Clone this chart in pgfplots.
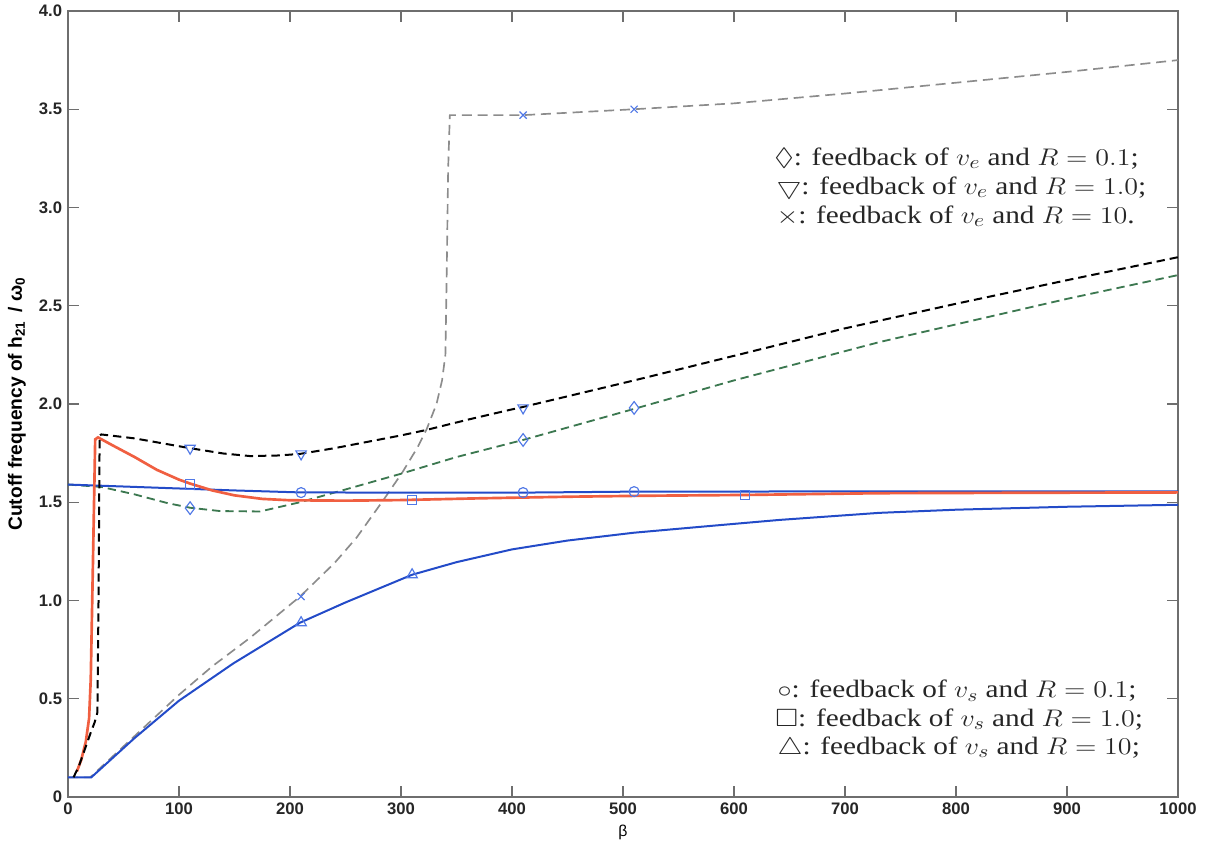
\documentclass[border=0pt]{standalone}
\usepackage{amssymb}
\usepackage{graphicx}
\usepackage{pgfplots}
\pgfplotsset{compat=1.18}
\usepackage{fontspec}
\setmainfont{Liberation Serif}
\setsansfont{Liberation Sans}
\usetikzlibrary{calc}
\definecolor{cred}{RGB}{240,95,65}
\definecolor{cblue}{RGB}{35,75,200}
\definecolor{cgreen}{RGB}{60,120,80}
\definecolor{cgray}{RGB}{140,140,140}
\definecolor{cmark}{RGB}{80,120,230}
\definecolor{caxis}{RGB}{110,110,110}
\newcommand{\wide}[1]{\scalebox{1.17}[1]{#1}}
\begin{document}
\begin{tikzpicture}
\begin{axis}[
  name=ax,
  scale only axis,
  width=666pt, height=471.6pt,
  xmin=0, xmax=1000, ymin=0, ymax=4,
  xtick={0,100,...,1000},
  ytick={0,0.5,1,1.5,2,2.5,3,3.5,4},
  yticklabels={0,0.5,1.0,1.5,2.0,2.5,3.0,3.5,4.0},
  xticklabel style={/pgf/number format/1000 sep={}},
  tick align=inside,
  major tick length=6.8pt,
  axis line style={caxis, line width=0.9pt},
  every tick/.style={caxis, line width=0.7pt},
  /pgf/number format/assume math mode=true,
  ticklabel style={font=\fontsize{10}{12}\sffamily\bfseries, text=black!85},
  xlabel={\fontsize{9.5}{11}\sffamily β},
  xlabel style={at={(axis description cs:0.5,0)}, anchor=center, yshift=-21pt},
  ylabel={\fontsize{11.5}{13}\sffamily\bfseries Cutoff frequency of h\textsubscript{21}\,\ /\ ω\textsubscript{0}},
  ylabel style={at={(axis description cs:-0.046,0.5)}, anchor=center, rotate=0},
  clip=false,
]
% gray dashed: v_e, R = 10
\addplot[cgray, line width=1.0pt, dash pattern=on 6pt off 3.5pt] coordinates {
(0,0.1)(20,0.1)(60,0.31)(100,0.52)(130,0.665)(164,0.81)(209,1.02)(240,1.19)(260,1.32)(284,1.51)(301,1.65)(315,1.78)(323,1.87)(332,2.0)(337,2.12)(340,2.25)(341,2.6)(342.5,3.2)(344,3.47)(380,3.47)(410,3.47)(510,3.50)(600,3.53)(700,3.58)(800,3.635)(900,3.69)(1000,3.75)};
% green dashed: v_e, R = 0.1
\addplot[cgreen, line width=1.1pt, dash pattern=on 5pt off 3pt] coordinates {
(0,1.59)(30,1.578)(60,1.54)(90,1.495)(110,1.472)(137,1.455)(173,1.453)(209,1.50)(250,1.565)(300,1.645)(350,1.73)(410,1.817)(510,1.975)(600,2.12)(731,2.315)(800,2.405)(900,2.535)(1000,2.656)};
% blue solid: v_s, R = 0.1
\addplot[cblue, line width=1.2pt] coordinates {
(0,1.59)(50,1.58)(100,1.57)(150,1.56)(209,1.55)(300,1.549)(410,1.549)(510,1.554)(700,1.555)(1000,1.555)};
% blue solid: v_s, R = 10
\addplot[cblue, line width=1.2pt] coordinates {
(0,0.1)(21,0.1)(60,0.3)(100,0.49)(149,0.68)(209,0.887)(250,0.99)(310,1.131)(350,1.195)(400,1.26)(450,1.305)(510,1.345)(580,1.38)(641,1.41)(731,1.446)(800,1.462)(900,1.477)(1000,1.487)};
% red solid: v_s, R = 1.0
\addplot[cred, line width=1.6pt] coordinates {
(8,0.13)(12,0.19)(16,0.28)(19,0.40)(20.5,0.6)(22.5,1.2)(24.5,1.82)(27,1.83)(40,1.79)(60,1.73)(80,1.665)(100,1.615)(110,1.595)(130,1.56)(150,1.535)(175,1.517)(200,1.51)(250,1.508)(300,1.511)(371,1.52)(450,1.528)(520,1.533)(610,1.537)(731,1.546)(850,1.548)(1000,1.55)};
% black dashed: v_e, R = 1.0
\addplot[black, line width=1.2pt, dash pattern=on 5pt off 3pt] coordinates {
(5,0.1)(10,0.16)(15,0.24)(20,0.32)(24,0.38)(26.5,0.43)(27.5,1.0)(28.5,1.84)(30,1.845)(60,1.825)(90,1.795)(110,1.775)(140,1.748)(164,1.735)(190,1.738)(209,1.746)(240,1.775)(263,1.80)(300,1.84)(323,1.868)(360,1.92)(398,1.97)(410,1.985)(510,2.12)(600,2.245)(700,2.385)(800,2.51)(900,2.63)(1000,2.747)};
% markers
\addplot[only marks, mark=o, mark size=3pt, mark options={cmark, line width=0.7pt}] coordinates {(210,1.549)(410,1.549)(510,1.554)};
\addplot[only marks, mark=square, mark size=2.8pt, mark options={cmark, line width=0.7pt}] coordinates {(110,1.59)(310,1.512)(610,1.537)};
\addplot[only marks, mark=triangle, mark size=3.6pt, mark options={cmark, line width=0.7pt}] coordinates {(210,0.887)(310,1.131)};
\addplot[only marks, mark=triangle, mark size=3.6pt, mark options={cmark, line width=0.7pt, rotate=180}] coordinates {(110,1.775)(210,1.746)(410,1.98)};
\addplot[only marks, mark=diamond, mark size=3.8pt, mark options={cmark, line width=0.7pt}] coordinates {(110,1.47)(410,1.817)(510,1.98)};
\addplot[only marks, mark=x, mark size=3pt, mark options={cmark, line width=0.7pt}] coordinates {(210,1.02)(410,3.47)(510,3.50)};
% annotations
\begin{scope}[every node/.style={anchor=west, inner sep=0pt, font=\fontsize{15}{18}\selectfont, text=black!85}]
\node at (axis cs:636,3.25) {\wide{$\Diamond$: feedback of $v_e$ and $R=0.1$;}};
\node at (axis cs:638,3.10) {\wide{$\bigtriangledown$: feedback of $v_e$ and $R=1.0$;}};
\node at (axis cs:638,2.955) {\wide{$\times$: feedback of $v_e$ and $R=10$.}};
\node at (axis cs:639,0.54) {\wide{$\circ$: feedback of $v_s$ and $R=0.1$;}};
\node at (axis cs:637,0.395) {\wide{$\Box$: feedback of $v_s$ and $R=1.0$;}};
\node at (axis cs:639,0.25) {\wide{$\bigtriangleup$: feedback of $v_s$ and $R=10$;}};
\end{scope}
\end{axis}
\pgfresetboundingbox
\path[use as bounding box] ($(ax.south west)+(-40.8pt,-28.2pt)$) rectangle ($(ax.north east)+(16.2pt,6.6pt)$);
\end{tikzpicture}
\end{document}
